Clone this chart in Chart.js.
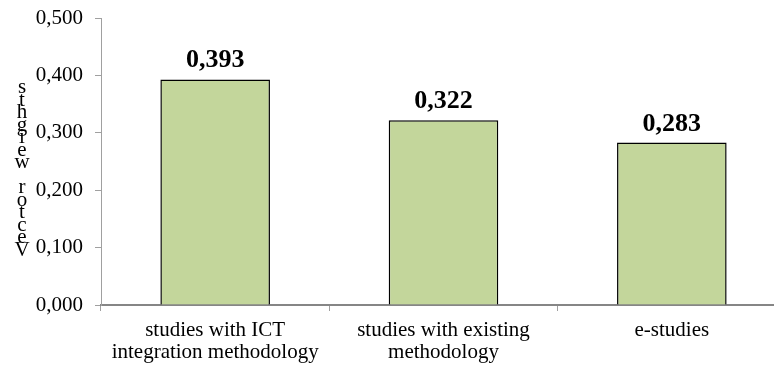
<!DOCTYPE html>
<html>
<head>
<meta charset="utf-8">
<script src="https://cdn.jsdelivr.net/npm/chart.js@4/dist/chart.umd.min.js"></script>
<style>
  html, body { margin: 0; padding: 0; background: #fff; overflow: hidden; }
  #wrap { position: relative; width: 786px; height: 367px; }
</style>
</head>
<body>
<div id="wrap"><canvas id="c"></canvas></div>
<script>
// Categories and vector weights
const categories = [
  ['studies with ICT', 'integration methodology'],
  ['studies with existing', 'methodology'],
  ['e-studies']
];
const weights = [0.393, 0.322, 0.283];
const yTicks = { min: 0, max: 0.5, step: 0.1 };
const axisTitle = 'Vector weights';

const serif = '"Liberation Serif", "Times New Roman", serif';
const fmt = v => v.toFixed(3).replace('.', ',');

// Value labels above each bar
const valueLabels = {
  id: 'valueLabels',
  afterDatasetsDraw(chart) {
    const ctx = chart.ctx;
    const meta = chart.getDatasetMeta(0);
    ctx.save();
    ctx.font = 'bold 26px ' + serif;
    ctx.fillStyle = '#000';
    ctx.textAlign = 'center';
    ctx.textBaseline = 'alphabetic';
    meta.data.forEach((bar, i) => {
      ctx.fillText(fmt(weights[i]), bar.x, bar.y - 12);
    });
    ctx.restore();
  }
};

// Vertical axis title, one glyph per line stacked upward
const stackedTitle = {
  id: 'stackedTitle',
  afterDraw(chart) {
    const ctx = chart.ctx;
    ctx.save();
    ctx.font = '21px ' + serif;
    ctx.fillStyle = '#000';
    ctx.textAlign = 'center';
    ctx.textBaseline = 'middle';
    const chars = axisTitle.split('');
    const bottom = 250, gap = 12.5;
    chars.forEach((ch, i) => {
      ctx.fillText(ch, 22, bottom - i * gap);
    });
    ctx.restore();
  }
};

new Chart(document.getElementById('c'), {
  type: 'bar',
  data: {
    labels: categories,
    datasets: [{
      data: weights,
      backgroundColor: '#c3d69b',
      borderColor: '#000',
      borderWidth: 1.5,
      categoryPercentage: 1,
      barPercentage: 0.48
    }]
  },
  options: {
    responsive: true,
    maintainAspectRatio: false,
    animation: false,
    layout: { padding: { top: 18, right: 0, left: 0, bottom: 0 } },
    plugins: { legend: { display: false }, tooltip: { enabled: false } },
    scales: {
      x: {
        offset: true,
        grid: { drawOnChartArea: false, tickLength: 6, color: '#a0a0a0', offset: true },
        border: { display: true, color: '#868686', width: 2 },
        ticks: {
          color: '#000',
          font: { family: serif, size: 21, lineHeight: 1.05 },
          padding: 8,
          maxRotation: 0,
          autoSkip: false
        },
        afterFit(scale) { scale.height = 62; scale.paddingLeft = 0; scale.paddingRight = 0; }
      },
      y: {
        min: yTicks.min,
        max: yTicks.max,
        grid: { drawOnChartArea: false, tickLength: 6, color: '#a0a0a0' },
        border: { display: true, color: '#a0a0a0', width: 1 },
        ticks: {
          stepSize: yTicks.step,
          color: '#000',
          font: { family: serif, size: 21 },
          padding: 12,
          callback: v => fmt(v)
        },
        afterFit(scale) { scale.width = 101; scale.paddingTop = 0; scale.paddingBottom = 0; }
      }
    }
  },
  plugins: [valueLabels, stackedTitle]
});
</script>
</body>
</html>
